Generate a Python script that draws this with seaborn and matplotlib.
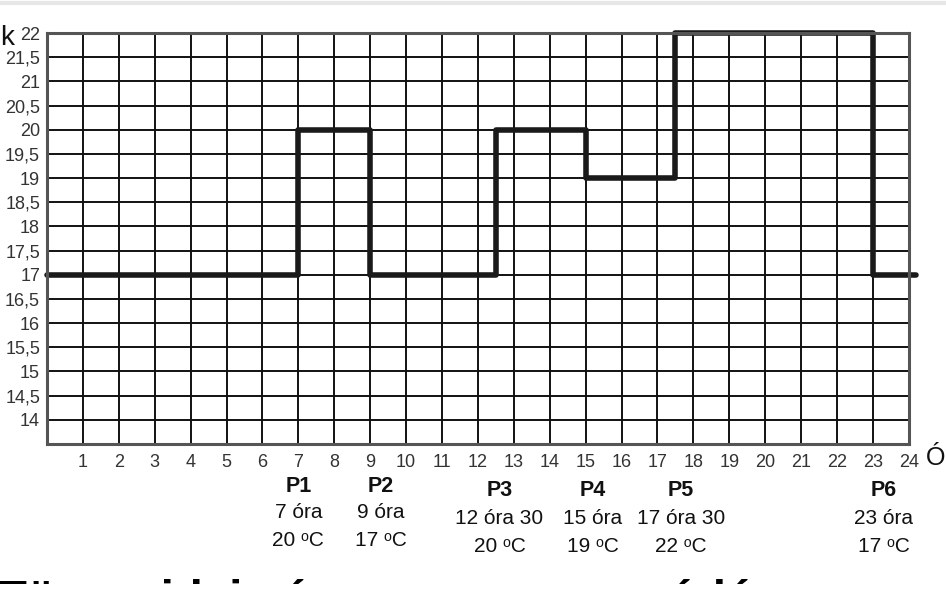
import matplotlib
matplotlib.use("Agg")
import matplotlib.pyplot as plt
import seaborn as sns
import pandas as pd
from matplotlib.transforms import Bbox, TransformedBbox

# program steps (hour, temperature)
hours = [0, 7, 9, 12.5, 15, 17.5, 23, 24.2]
temps = [17, 20, 17, 20, 19, 22, 17, 17]

point_names = ["P1", "P2", "P3", "P4", "P5", "P6"]
point_times = ["7 óra", "9 óra", "12 óra 30", "15 óra", "17 óra 30", "23 óra"]
point_temps = ["20 \u1d52C", "17 \u1d52C", "20 \u1d52C", "19 \u1d52C", "22 \u1d52C", "17 \u1d52C"]
point_x = [7.0, 9.3, 12.6, 15.2, 17.65, 23.3]

x_ticks = list(range(1, 25))
y_ticks = [14 + 0.5 * i for i in range(17)]

df = pd.DataFrame({"ora": hours, "homerseklet": temps})

sns.set_style("white")
plt.rcParams["font.family"] = ["Liberation Sans", "DejaVu Sans"]

fig = plt.figure(figsize=(9.46, 6.14), dpi=100)
ax = fig.add_axes([0.0497, 0.277, 0.911, 0.669])

ax.set_xlim(0, 24)
ax.set_ylim(13.5, 22)
ax.set_xticks(range(0, 25))
ax.set_xticklabels([""] + [str(t) for t in x_ticks])
ax.set_yticks([13.5] + y_ticks)
ax.set_yticklabels([""] + [f"{v:g}".replace(".", ",") for v in y_ticks])
ax.tick_params(length=0, labelsize=13, labelcolor="#333333")
ax.tick_params(axis="x", pad=7)
ax.tick_params(axis="y", pad=5)
ax.grid(True, color="#111111", linewidth=1.4)
ax.set_axisbelow(True)
for s in ax.spines.values():
    s.set_color("#555555")
    s.set_linewidth(2.2)

sns.lineplot(data=df, x="ora", y="homerseklet", drawstyle="steps-post",
             estimator=None, color="#1a1a1a", linewidth=4, ax=ax, clip_on=False)
ax.set_xlabel("")
ax.set_ylabel("")

# program point annotations under the axis
for name, t, c, xp in zip(point_names, point_times, point_temps, point_x):
    dy = 0 if name in ("P1", "P2") else 5
    xf = 0.0497 + 0.911 * xp / 24
    fig.text(xf, 1 - (486 + dy) / 614, name, ha="center", va="center",
             fontsize=15.5, fontweight="bold", color="#111111")
    fig.text(xf, 1 - (513 + dy) / 614, t, ha="center", va="center",
             fontsize=15, color="#111111")
    fig.text(xf, 1 - (541 + dy) / 614, c, ha="center", va="center",
             fontsize=15, color="#111111")

fig.text(0.0, 1 - 38 / 614, "k", ha="left", va="center", fontsize=20, color="#111111")
fig.text(0.979, 1 - 458 / 614, "Ó", ha="left", va="center", fontsize=18, color="#111111")

# top sliver of a cropped heading line below the chart
head = fig.text(-0.002, 1 - 613 / 614, "Tüzem ideje és a program vezérlése",
                ha="left", va="baseline", fontsize=34, fontweight="bold", color="#000000")
head.set_clip_box(TransformedBbox(Bbox([[0, 30 / 614], [1, 37 / 614]]), fig.transFigure))
head.set_clip_on(True)

# thin grey line at the top of the screenshot
fig.add_artist(plt.Line2D([0, 1], [1 - 3 / 614, 1 - 3 / 614], color="#e6e6e6", linewidth=3))

fig.savefig("out.png", dpi=100)
